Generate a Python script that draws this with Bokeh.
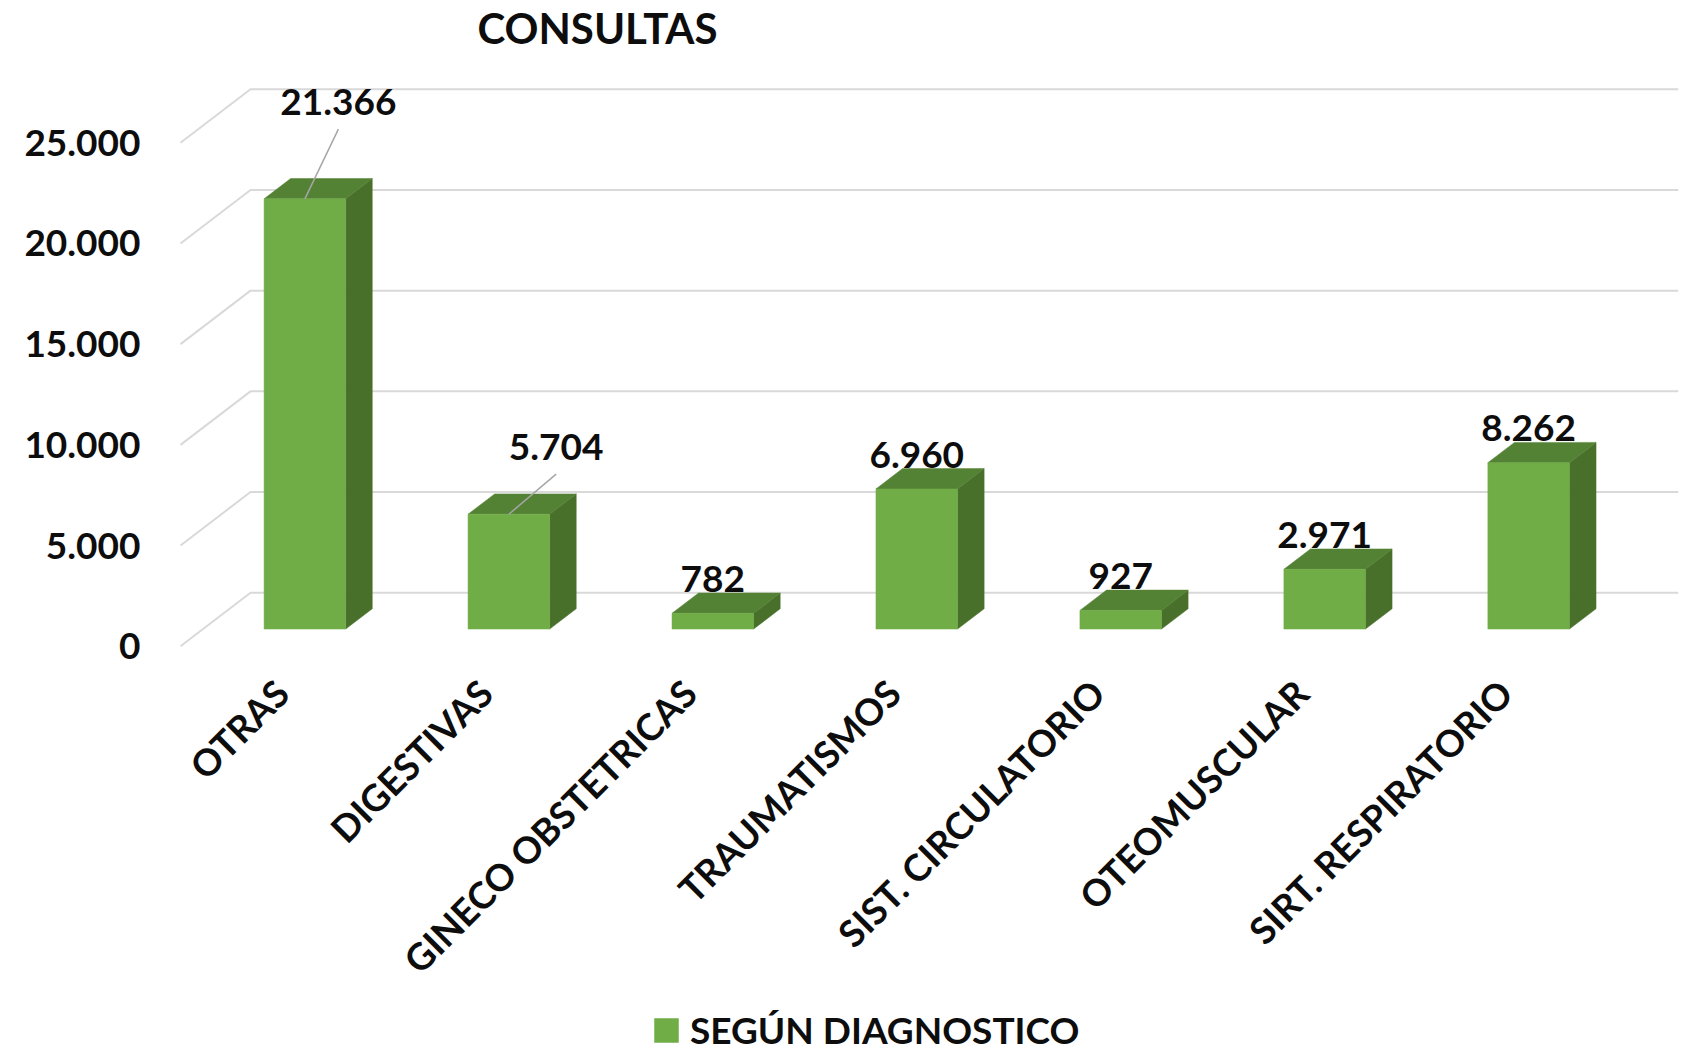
import math
from bokeh.plotting import figure
from bokeh.models import Range1d, Legend, LegendItem, Label
from bokeh.core.properties import value
from bokeh.embed import file_html
from bokeh.resources import INLINE

# ---------------- data ----------------
categories = ["OTRAS", "DIGESTIVAS", "GINECO OBSTETRICAS", "TRAUMATISMOS",
              "SIST. CIRCULATORIO", "OTEOMUSCULAR", "SIRT. RESPIRATORIO"]
values = [21366, 5704, 782, 6960, 927, 2971, 8262]
y_ticks = [0, 5000, 10000, 15000, 20000, 25000]
y_tick_labels = ["0", "5.000", "10.000", "15.000", "20.000", "25.000"]
title_text = "CONSULTAS"
series_name = "SEGÚN DIAGNOSTICO"

# ---------------- layout / style ----------------
W, H = 1680, 1052
SLOT_PX = 203.96          # px per category slot
UNIT_PX = 0.020136        # px per value unit
ORIGIN_X_PX = 180.0       # front-left corner of floor (px from left)
ORIGIN_Y_PX = 645.7       # front zero line (px from top)
DEPTH_X_PX, DEPTH_Y_PX = 70.0, 53.5
Z0, Z1 = 0.32, 0.70       # bar depth span (fraction of floor depth)
BAR_W = 0.40
FONT = "Lato"
FRONT, TOP, SIDE = "#70AD47", "#548235", "#49702B"
GRID = "#D9D9D9"
LEADER = "#A6A6A6"
TEXT = "#0D0D0D"
BASELINE_FIX_PX = 12.0    # rendered alphabetic baseline sits this much lower
# manually moved data labels (px right, px above top edge)
label_shift = {0: (33.5, 64.4), 1: (47.3, 34.7)}
default_shift = (0.0, 2.0)

x_start = -0.5 - ORIGIN_X_PX / SLOT_PX
x_end = x_start + W / SLOT_PX
y_end = ORIGIN_Y_PX / UNIT_PX
y_start = y_end - H / UNIT_PX


def px_x(px):
    return px / SLOT_PX


def px_y(px):
    return px / UNIT_PX


DX = px_x(DEPTH_X_PX)
DY = px_y(DEPTH_Y_PX)
n = len(categories)

p = figure(width=W, height=H, x_range=Range1d(x_start, x_end), y_range=Range1d(y_start, y_end),
           output_backend="svg", toolbar_location=None, min_border=0,
           x_axis_location=None, y_axis_location=None)
p.grid.visible = False
p.outline_line_color = None
p.background_fill_color = "white"

# ---------------- grid (side wall + back wall) ----------------
gx, gy = [], []
for t in y_ticks:
    gx.append([-0.5, -0.5 + DX, n - 0.5 + DX])
    gy.append([t, t + DY, t + DY])
p.multi_line(gx, gy, line_color=GRID, line_width=2)

# ---------------- 3D bars ----------------
dz = Z1 - Z0
fx, fy, tx, ty, sx, sy = [], [], [], [], [], []
for i, v in enumerate(values):
    x0 = i - BAR_W / 2 + Z0 * DX
    x1 = i + BAR_W / 2 + Z0 * DX
    y0 = Z0 * DY
    y1 = v + Z0 * DY
    fx.append([x0, x1, x1, x0]); fy.append([y0, y0, y1, y1])
    tx.append([x0, x1, x1 + dz * DX, x0 + dz * DX]); ty.append([y1, y1, y1 + dz * DY, y1 + dz * DY])
    sx.append([x1, x1 + dz * DX, x1 + dz * DX, x1]); sy.append([y0, y0 + dz * DY, y1 + dz * DY, y1])

p.patches(sx, sy, fill_color=SIDE, line_color=SIDE, line_width=0.5)
p.patches(tx, ty, fill_color=TOP, line_color=TOP, line_width=0.5)
front_r = p.patches(fx, fy, fill_color=FRONT, line_color=FRONT, line_width=0.5)

# ---------------- y tick labels ----------------
p.text(x=[-0.5 - px_x(40)] * len(y_ticks), y=y_ticks, text=y_tick_labels,
       text_font=value(FONT), text_font_style="bold", text_font_size=value("37px"),
       text_color=TEXT, text_align="right", text_baseline="middle")

# ---------------- category labels ----------------
p.text(x=[i + px_x(-1) for i in range(n)], y=[-px_y(40)] * n, text=categories,
       angle=math.pi / 4, text_font=value(FONT), text_font_style="bold",
       text_font_size=value("37px"), text_color=TEXT,
       text_align="right", text_baseline="middle")

# ---------------- data labels + leader lines ----------------
lx, ly, ltxt = [], [], []
leader_x, leader_y = [], []
for i, v in enumerate(values):
    sxp, syp = label_shift.get(i, default_shift)
    xc = i + Z0 * DX
    x_lab = xc + px_x(sxp)
    base = v + Z1 * DY + px_y(syp)          # visual baseline of the label
    lx.append(x_lab); ly.append(base + px_y(BASELINE_FIX_PX))
    ltxt.append(f"{v:,}".replace(",", "."))
    if i in label_shift:
        leader_x.append([x_lab, xc])
        leader_y.append([base - px_y(15), v + Z0 * DY])
p.multi_line(leader_x, leader_y, line_color=LEADER, line_width=1.5)
p.text(x=lx, y=ly, text=ltxt, text_font=value(FONT), text_font_style="bold",
       text_font_size=value("37px"), text_color=TEXT,
       text_align="center", text_baseline="alphabetic")

# ---------------- title ----------------
title = Label(x=x_start + px_x(597), y=y_end - px_y(39.5 - BASELINE_FIX_PX), text=title_text,
              text_font=FONT, text_font_style="bold", text_font_size="42px",
              text_color=TEXT, text_align="center", text_baseline="alphabetic")
p.add_layout(title)

# ---------------- legend ----------------
legend = Legend(items=[LegendItem(label=series_name, renderers=[front_r])],
                location=(651, 0), orientation="horizontal",
                glyph_width=30, glyph_height=30, label_standoff=9,
                padding=0, margin=0, spacing=0,
                border_line_color=None, background_fill_alpha=0,
                label_text_font=FONT, label_text_font_style="bold",
                label_text_font_size="37px", label_text_color=TEXT)
p.add_layout(legend)

open("out.html", "w").write(file_html(p, INLINE))
